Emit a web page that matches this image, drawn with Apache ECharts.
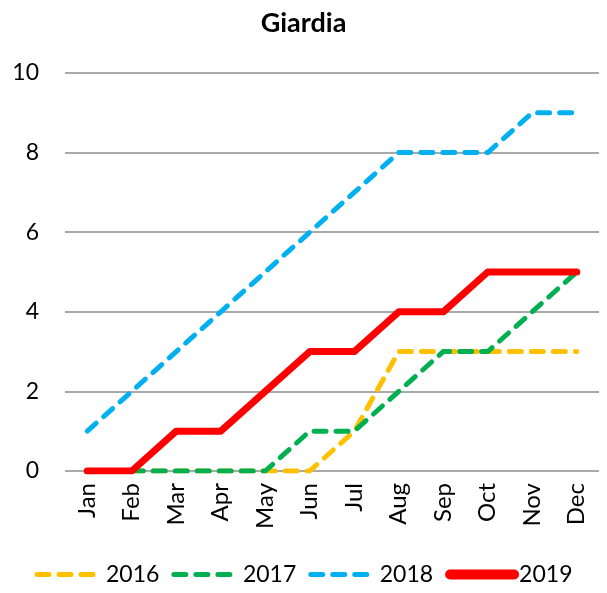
<!DOCTYPE html>
<html><head><meta charset="utf-8">
<script src="https://cdn.jsdelivr.net/npm/echarts@6/dist/echarts.min.js"></script>
<style>html,body{margin:0;padding:0;background:#fff}#c{width:607px;height:593px}</style>
</head><body><div id="c"></div>
<script>
const months = ['Jan','Feb','Mar','Apr','May','Jun','Jul','Aug','Sep','Oct','Nov','Dec'];
const s2016 = [0,0,0,0,0,0,1,3,3,3,3,3];
const s2017 = [0,0,0,0,0,1,1,2,3,3,4,5];
const s2018 = [1,2,3,4,5,6,7,8,8,8,9,9];
const s2019 = [0,0,1,1,2,3,3,4,4,5,5,5];
const yTicks = [0,2,4,6,8,10];

const font = 'Lato, "Liberation Sans", sans-serif';
function dashed(name, data, color){
  return {name, type:'line', data, symbol:'none', showSymbol:false,
    lineStyle:{color, width:5, type:[12,10], cap:'round', join:'round'},
    itemStyle:{color}};
}
const chart = echarts.init(document.getElementById('c'));
chart.setOption({
  animation:false,
  title:{text:'Giardia', left:'center', top:5, textStyle:{fontFamily:font, fontSize:27, fontWeight:'bold', color:'#000'}},
  grid:{left:65, right:8, top:73, bottom:122, containLabel:false},
  xAxis:{type:'category', data:months, boundaryGap:true,
    axisLine:{show:false}, axisTick:{show:false},
    axisLabel:{rotate:90, fontFamily:font, fontSize:24, color:'#000', margin:12}},
  yAxis:{type:'value', min:0, max:10, interval:2,
    axisLine:{show:false}, axisTick:{show:false},
    axisLabel:{fontFamily:font, fontSize:23, color:'#000', margin:26,
      formatter:v=>yTicks.includes(v)?String(v):''},
    splitLine:{lineStyle:{color:'#8c8c8c', width:1.5}}},
  legend:{bottom:2, left:'center', itemWidth:64, itemHeight:14, itemGap:12,
    itemStyle:{opacity:0},
    textStyle:{fontFamily:font, fontSize:23, color:'#000'},
    data:[
      {name:'2016', lineStyle:{width:5, type:[12,10], cap:'round'}},
      {name:'2017', lineStyle:{width:5, type:[12,10], cap:'round'}},
      {name:'2018', lineStyle:{width:5, type:[12,10], cap:'round'}},
      {name:'2019', lineStyle:{width:10, cap:'round'}}
    ]},
  series:[
    dashed('2016', s2016, '#FFC000'),
    dashed('2017', s2017, '#00B050'),
    dashed('2018', s2018, '#00B0F0'),
    {name:'2019', type:'line', data:s2019, symbol:'none', showSymbol:false,
      lineStyle:{color:'#FF0000', width:7, cap:'round', join:'round'}, itemStyle:{color:'#FF0000'}}
  ]
});
</script></body></html>
